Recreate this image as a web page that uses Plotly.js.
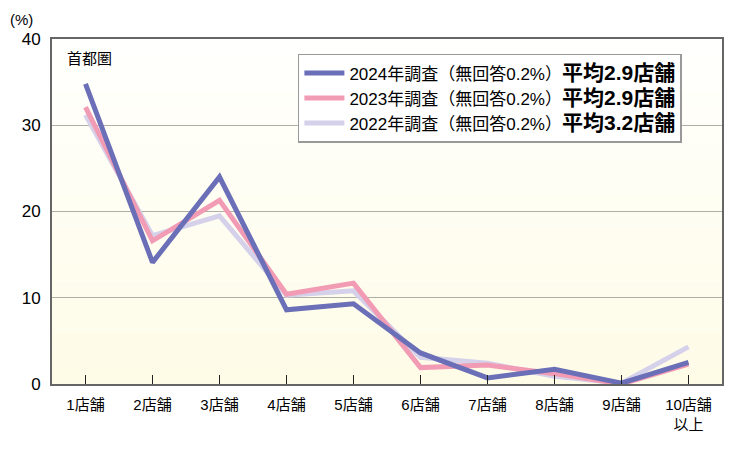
<!DOCTYPE html>
<html><head><meta charset="utf-8">
<script src="https://cdn.plot.ly/plotly-3.0.1.min.js"></script>
<style>html,body{margin:0;padding:0;background:#fff;}#chart{width:750px;height:468px;}</style>
</head><body><div id="chart"></div>
<script>
const categories = ["1店舗","2店舗","3店舗","4店舗","5店舗","6店舗","7店舗","8店舗","9店舗","10店舗<br>以上"];
const v2024 = [34.8, 14.1, 24.0, 8.6, 9.3, 3.6, 0.7, 1.7, 0.1, 2.5];
const v2023 = [32.1, 16.6, 21.3, 10.4, 11.7, 1.9, 2.2, 1.2, 0.0, 2.3];
const v2022 = [31.2, 17.2, 19.5, 10.3, 10.8, 3.1, 2.4, 0.9, 0.1, 4.3];
const names = [
  '2024年調査（無回答0.2%）<b><span style="font-size:21px">平均2.9店舗</span></b>',
  '2023年調査（無回答0.2%）<b><span style="font-size:21px">平均2.9店舗</span></b>',
  '2022年調査（無回答0.2%）<b><span style="font-size:21px">平均3.2店舗</span></b>'
];
const yTicks = [0,10,20,30,40];

const font = "'Liberation Sans', 'Noto Sans CJK JP', sans-serif";
const mk = (y, name, color) => ({
  x: categories.map((c,i)=>i), y: y, name: name, type: 'scatter', mode: 'lines',
  line: {color: color, width: 5}
});
const traces = [
  mk(v2022, names[2], '#d5d1ea'),
  mk(v2023, names[1], '#f29bb4'),
  mk(v2024, names[0], '#6b6fb7')
];

// background gradient bands
const shapes = [];
const nb = 20;
for (let i = 0; i < nb; i++) {
  const t = i / (nb - 1);
  const r = 255 - Math.round(1*t), g = 255 - Math.round(3*t), b = 253 - Math.round(22*t);
  shapes.push({type:'rect', xref:'x domain', yref:'y domain', x0:0, x1:1,
    y0: 1 - (i+1)/nb, y1: 1 - i/nb, fillcolor:`rgb(${r},${g},${b})`, line:{width:0}, layer:'below'});
}

const layout = {
  width: 750, height: 468,
  margin: {l: 52, r: 28, t: 39, b: 84},
  paper_bgcolor: '#ffffff', plot_bgcolor: 'rgba(0,0,0,0)',
  font: {family: font, color: '#000', size: 14},
  showlegend: true,
  legend: {x: 0.367, y: 0.957, xanchor: 'left', yanchor: 'top', bgcolor: '#ffffff',
    bordercolor: '#999999', borderwidth: 1.5, traceorder: 'reversed',
    font: {family: font, size: 17, color: '#000'}, tracegroupgap: 0, itemwidth: 40},
  xaxis: {range: [-0.5, 9.5], tickmode: 'array', tickvals: categories.map((c,i)=>i), ticktext: categories,
    showgrid: false, zeroline: false, showline: true, linecolor: '#666', linewidth: 2, mirror: true,
    ticks: 'inside', ticklen: 9, tickcolor: '#222', tickwidth: 1.5, fixedrange: true,
    ticklabelstandoff: 6,
    tickfont: {family: font, size: 15, color: '#000'}},
  yaxis: {range: [0, 40], tickmode: 'array', tickvals: yTicks, ticktext: yTicks.map(String),
    showgrid: true, gridcolor: '#aeaea6', gridwidth: 1, zeroline: false,
    showline: true, linecolor: '#666', linewidth: 2, mirror: true, ticks: '',
    tickfont: {family: font, size: 17, color: '#000'}, ticklabelstandoff: 6, fixedrange: true},
  shapes: shapes,
  annotations: [
    {text: '(%)', xref: 'paper', yref: 'paper', x: -0.045, y: 1.025, xanchor: 'center', yanchor: 'bottom',
      showarrow: false, font: {family: font, size: 15, color: '#000'}},
    {text: '首都圏', xref: 'paper', yref: 'paper', x: 0.02, y: 0.975, xanchor: 'left', yanchor: 'top',
      showarrow: false, font: {family: font, size: 15, color: '#000'}}
  ]
};
Plotly.newPlot('chart', traces, layout, {displayModeBar: false, staticPlot: true});
</script></body></html>
